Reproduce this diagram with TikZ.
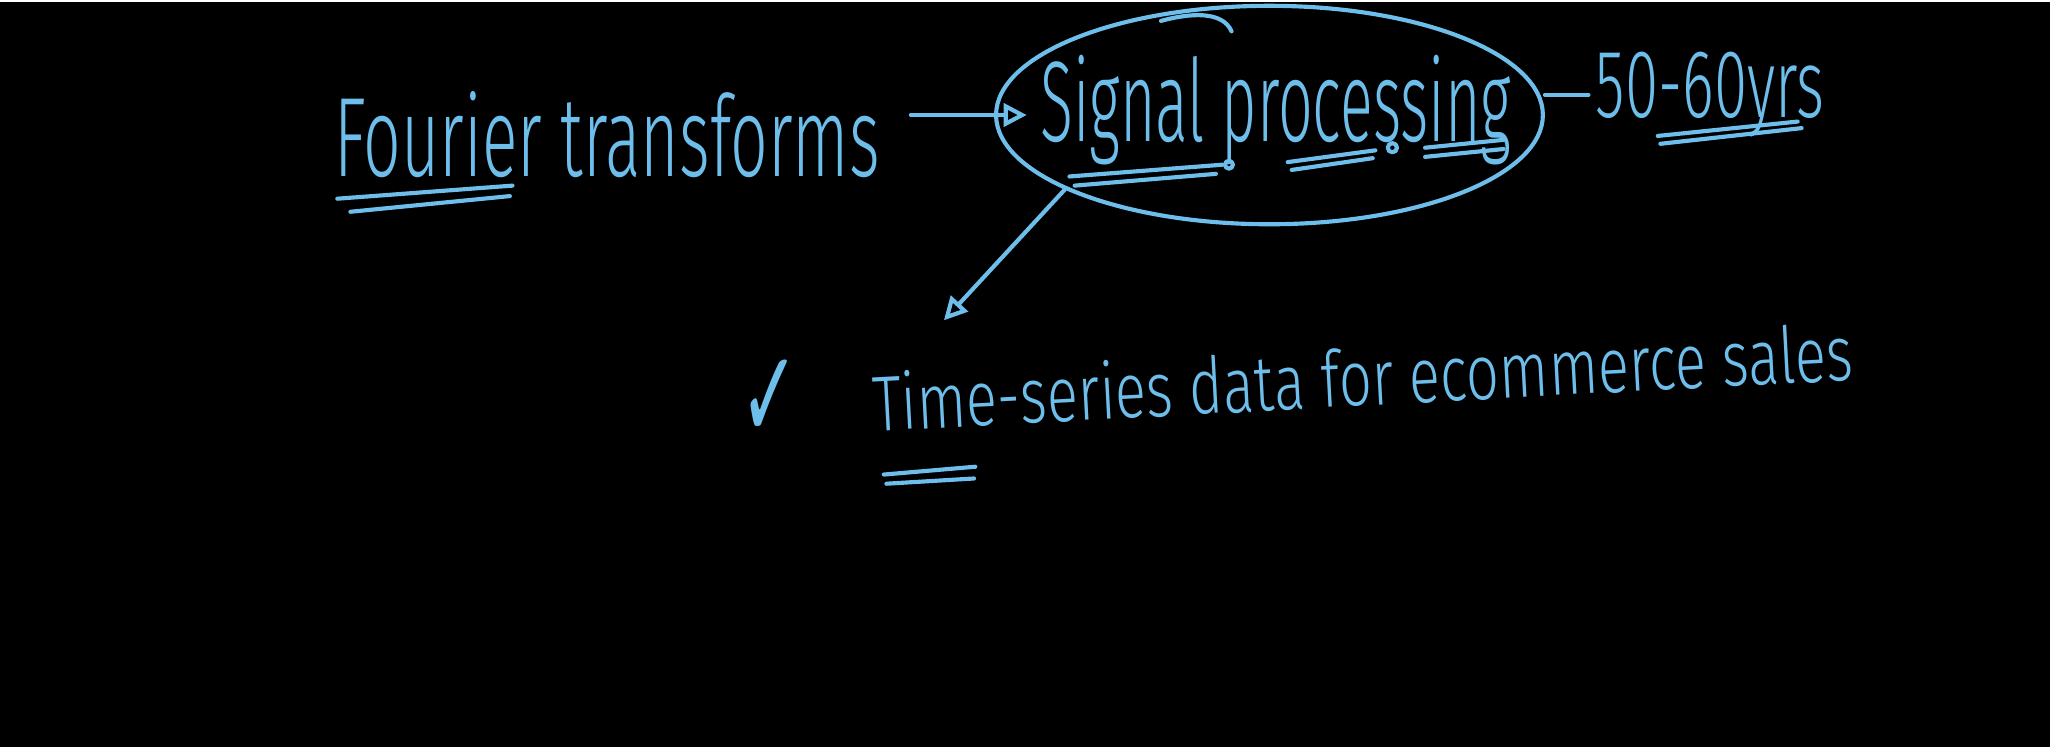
\documentclass[tikz,border=0pt]{standalone}
\usepackage{fontspec}
\newfontfamily\hand{Fira Sans Light}
\newfontfamily\symf{DejaVu Sans}
\usetikzlibrary{shapes.geometric,arrows.meta}
\definecolor{ink}{RGB}{110,190,235}
\begin{document}
\begin{tikzpicture}[x=0.01cm,y=-0.01cm,
  txt/.style={text=ink,inner sep=0pt,font=\hand},
  stroke/.style={draw=ink,line width=0.9pt,line cap=round,line join=round},
  ul/.style={stroke},
  conn/.style={stroke},
  arr/.style={stroke,-{Triangle[open,length=5pt,width=5pt]}},
  loop/.style={stroke,ellipse,minimum width=4.18cm,minimum height=1.67cm,inner sep=0pt}
]
\fill[black] (0,0) rectangle (1568,571);
\fill[white] (0,0) rectangle (1568,1.5);
\useasboundingbox (0,0) rectangle (1568,571);

% texts
\node[txt,anchor=base west] (fourier) at (255,135) {\resizebox{4.17cm}{0.65cm}{Fourier transforms}};
\node[txt,anchor=base west] (sigtext) at (795,108) {\resizebox{3.6cm}{0.66cm}{Signal processing}};
\node[loop] (sp) at (971,88) {};
\node[txt,anchor=base west] (years) at (1220,90) {\resizebox{1.75cm}{0.5cm}{50-60yrs}};
\node[txt,anchor=base west,rotate=3] (ts) at (668,330) {\resizebox{7.5cm}{0.45cm}{Time-series data for ecommerce sales}};
\node[text=ink,inner sep=0pt,anchor=south west] (check) at (566,336) {\resizebox{0.45cm}{0.6cm}{\symf ✓}};

% connectors
\draw[arr,shorten <=0.23cm,shorten >=-0.25cm] (fourier.east |- sp.west) -- (sp.west);
\draw[conn,shorten >=0.05cm] (sp.east |- years.west) -- (years.west);
\coordinate (tip) at (722,245);
\draw[arr] (sp.200) -- (tip);

% loop overlap hook at top
\draw[stroke] (888,16) .. controls (910,10) and (935,8) .. (942,24);

% underlines
\draw[ul] (258,152) -- (392,142);
\draw[ul] (268,162) -- (390,150);
\draw[ul] (818,135) -- (935,126);
\draw[ul] (822,142) -- (930,133);
\draw[stroke] (940,126) circle (3);
\draw[ul] (985,124) -- (1052,115);
\draw[ul] (988,130) -- (1050,121);
\draw[stroke] (1065,113) circle (3.5);
\draw[ul] (1090,113) -- (1150,107);
\draw[ul] (1090,120) -- (1150,114);
\draw[ul] (1270,110) -- (1378,98);
\draw[ul] (1268,104) -- (1375,93);
\draw[ul] (676,363) -- (746,357);
\draw[ul] (678,370) -- (745,366);
\end{tikzpicture}
\end{document}
